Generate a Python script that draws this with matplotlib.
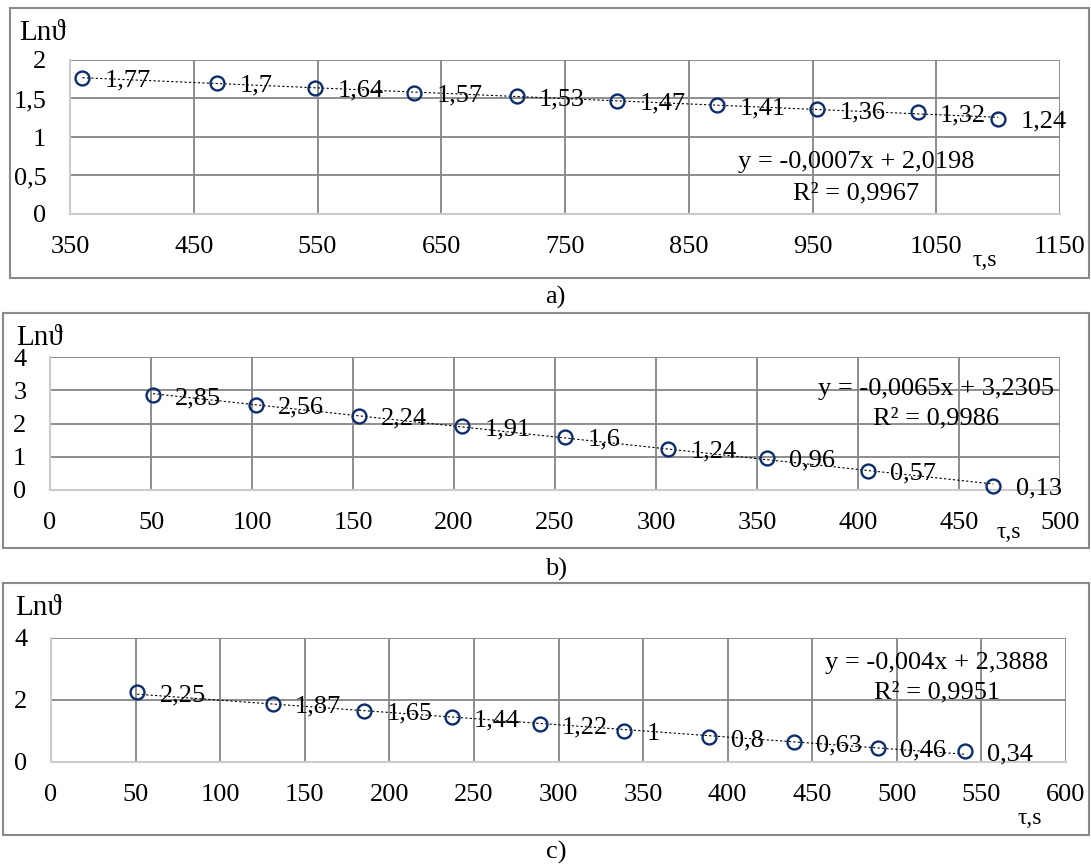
import matplotlib
matplotlib.use("Agg")
import matplotlib.pyplot as plt
import numpy as np
from matplotlib.patches import Rectangle

plt.rcParams['font.family'] = ['Liberation Serif', 'DejaVu Serif']

# --- data ---
tau_a = [360, 469, 548, 628, 711, 792, 873, 954, 1035, 1100]
ln_a = [1.77, 1.7, 1.64, 1.57, 1.53, 1.47, 1.41, 1.36, 1.32, 1.24]
xticks_a = [350, 450, 550, 650, 750, 850, 950, 1050, 1150]
yticks_a = [0, 0.5, 1, 1.5, 2]
ylabels_a = ["0", "0,5", "1", "1,5", "2"]
eq_a = ["y = -0,0007x + 2,0198", "R² = 0,9967"]

tau_b = [51, 102, 153, 204, 255, 306, 355, 405, 467]
ln_b = [2.85, 2.56, 2.24, 1.91, 1.6, 1.24, 0.96, 0.57, 0.13]
xticks_b = [0, 50, 100, 150, 200, 250, 300, 350, 400, 450, 500]
yticks_b = [0, 1, 2, 3, 4]
ylabels_b = ["0", "1", "2", "3", "4"]
eq_b = ["y = -0,0065x + 3,2305", "R² = 0,9986"]

tau_c = [51, 131, 185, 237, 289, 339, 389, 439, 489, 540]
ln_c = [2.25, 1.87, 1.65, 1.44, 1.22, 1, 0.8, 0.63, 0.46, 0.34]
xticks_c = [0, 50, 100, 150, 200, 250, 300, 350, 400, 450, 500, 550, 600]
yticks_c = [0, 2, 4]
ylabels_c = ["0", "2", "4"]
eq_c = ["y = -0,004x + 2,3888", "R² = 0,9951"]

W, H = 1091, 866
fig = plt.figure(figsize=(W / 100, H / 100), dpi=100)

FS = 19
GRID = "#858585"
AXC = "#cccccc"
MARK = "#0d2c6c"


def fx(x):
    return x / W


def fy(y):
    return 1 - y / H


def panel(box, rect, tau, ln, xticks, yticks, ylabels, eq, eq_pos,
          ylab_pos, tau_pos, cap, cap_pos):
    # outer frame
    x0, y0, x1, y1 = box
    fig.patches.append(Rectangle((fx(x0), fy(y1)), fx(x1 - x0), (y1 - y0) / H,
                                 transform=fig.transFigure, fill=False,
                                 edgecolor="#8a8a8a", lw=1.5))
    l, t, r, b = rect
    ax = fig.add_axes([fx(l), fy(b), fx(r - l), (b - t) / H])
    ax.set_xlim(xticks[0], xticks[-1])
    ax.set_ylim(yticks[0], yticks[-1])
    ax.set_xticks(xticks)
    ax.set_xticklabels([str(v) for v in xticks])
    ax.set_yticks(yticks)
    ax.set_yticklabels(ylabels)
    ax.tick_params(length=0, labelsize=FS)
    ax.tick_params(axis="x", pad=16)
    ax.tick_params(axis="y", pad=17)
    ax.set_axisbelow(True)
    ax.grid(True, color=GRID, lw=1.3)
    for s in ["top", "right"]:
        ax.spines[s].set_visible(False)
    for s in ["left", "bottom"]:
        ax.spines[s].set_color(AXC)
        ax.spines[s].set_linewidth(1.5)

    # linear trend line
    k, c0 = np.polyfit(tau, ln, 1)
    xs = np.array([min(tau), max(tau)])
    ax.plot(xs, k * xs + c0, color="black", lw=0.8, ls=(0, (2, 2)), zorder=3)
    ax.plot(tau, ln, ls="none", marker="o", ms=10, mfc="none",
            mec=MARK, mew=1.7, zorder=4, clip_on=False)
    for xv, yv in zip(tau, ln):
        ax.annotate(f"{yv:g}".replace(".", ","), (xv, yv), xytext=(16, -2),
                    textcoords="offset points", ha="left", va="center",
                    fontsize=FS, zorder=5, annotation_clip=False)

    fig.text(fx(eq_pos[0]), fy(eq_pos[1]), eq[0], ha="center", va="center",
             fontsize=FS)
    fig.text(fx(eq_pos[0]), fy(eq_pos[2]), eq[1], ha="center", va="center",
             fontsize=FS)
    fig.text(fx(ylab_pos[0]), fy(ylab_pos[1]), "Lnϑ", ha="left",
             va="center", fontsize=21)
    fig.text(fx(tau_pos[0]), fy(tau_pos[1]), "τ,s", ha="center",
             va="center", fontsize=17)
    fig.text(fx(cap_pos[0]), fy(cap_pos[1]), cap, ha="center", va="center",
             fontsize=FS)
    return ax


panel((10, 8, 1089, 278), (70, 60, 1060, 214), tau_a, ln_a, xticks_a,
      yticks_a, ylabels_a, eq_a, (856, 162, 193), (19, 33), (985, 260),
      "a)", (555, 297))
panel((3, 313, 1089, 548), (50, 357, 1060, 490), tau_b, ln_b, xticks_b,
      yticks_b, ylabels_b, eq_b, (936, 389, 418), (16, 338), (1009, 532),
      "b)", (556, 569))
panel((3, 583, 1089, 835), (51, 638, 1066, 762), tau_c, ln_c, xticks_c,
      yticks_c, ylabels_c, eq_c, (937, 663, 692), (15, 608), (1030, 818),
      "c)", (556, 852))

fig.savefig("out.png", dpi=100)
